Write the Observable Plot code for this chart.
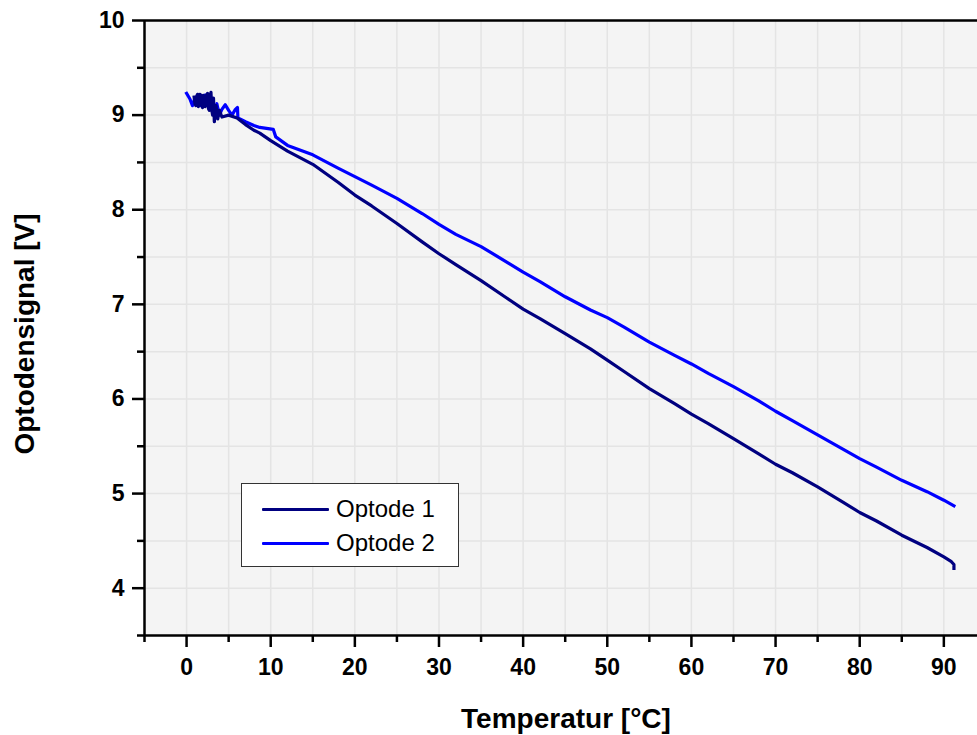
<!DOCTYPE html>
<html>
<head>
<meta charset="utf-8">
<script src="https://cdn.jsdelivr.net/npm/d3@7"></script>
<script src="https://cdn.jsdelivr.net/npm/@observablehq/plot@0.6"></script>
<style>
  html, body { margin: 0; padding: 0; background: #ffffff; }
  #wrap { position: relative; width: 977px; height: 735px; font-family: "Liberation Sans", Arial, sans-serif; }
  #legend { position: absolute; left: 241px; top: 483px; width: 216px; height: 82px; background: #ffffff; border: 1px solid #333333; }
  .row { position: absolute; left: 20px; height: 30px; display: flex; align-items: center; }
  .sw { width: 67px; height: 3px; margin-right: 7px; border-radius: 1px; }
  .lab { font-size: 24px; color: #000; line-height: 30px; }
</style>
</head>
<body>
<div id="wrap"></div>
<script>
// Optode 1 (dark blue)
const temp1 = [0.9, 1.0, 1.1, 1.2, 1.3, 1.4, 1.5, 1.6, 1.7, 1.8, 1.9, 2.0, 2.1, 2.2, 2.3, 2.4, 2.5, 2.6, 2.7, 2.8, 2.9, 3.0, 3.1, 3.2, 3.3, 3.5, 3.7, 3.9, 4.2, 5.0, 6.0, 7, 8, 8.7, 10, 12, 15, 18, 20, 22, 25, 28, 30, 32, 35, 38, 40, 42, 45, 48, 50, 52, 55, 58, 60, 62, 65, 68, 70, 72, 75, 78, 80, 82, 85, 88, 90, 90.9, 91.2, 91.2];
const signal1 = [9.19, 9.12, 9.10, 9.20, 9.22, 9.09, 9.12, 9.22, 9.21, 9.10, 9.08, 9.21, 9.20, 9.09, 9.13, 9.22, 9.23, 9.07, 9.05, 9.20, 9.24, 9.05, 9.00, 9.18, 8.93, 9.10, 8.96, 9.05, 8.98, 9.00, 8.97, 8.90, 8.84, 8.81, 8.73, 8.62, 8.48, 8.29, 8.155, 8.04, 7.855, 7.66, 7.535, 7.42, 7.25, 7.07, 6.95, 6.85, 6.69, 6.53, 6.41, 6.29, 6.11, 5.95, 5.84, 5.74, 5.58, 5.42, 5.31, 5.22, 5.07, 4.91, 4.80, 4.71, 4.56, 4.43, 4.33, 4.28, 4.25, 4.21];
// Optode 2 (blue)
const temp2 = [0, 0.4, 0.7, 1.0, 1.2, 1.4, 1.6, 1.8, 2.0, 2.2, 2.4, 2.6, 2.8, 3.0, 3.3, 3.6, 3.9, 4.2, 4.6, 5.0, 5.4, 5.8, 6.05, 6.1, 7, 8, 8.7, 10.3, 10.6, 12, 15, 18, 20, 22, 25, 28, 30, 32, 35, 38, 40, 42, 45, 48, 50, 52, 55, 58, 60, 62, 65, 68, 70, 72, 75, 78, 80, 82, 85, 88, 90, 91.2];
const signal2 = [9.23, 9.17, 9.10, 9.18, 9.12, 9.20, 9.10, 9.19, 9.13, 9.21, 9.11, 9.18, 9.09, 9.16, 9.05, 9.12, 9.00, 9.06, 9.11, 9.05, 9.00, 9.06, 9.08, 8.97, 8.93, 8.89, 8.87, 8.85, 8.77, 8.68, 8.58, 8.44, 8.35, 8.26, 8.12, 7.96, 7.845, 7.74, 7.61, 7.45, 7.34, 7.24, 7.08, 6.94, 6.86, 6.76, 6.60, 6.46, 6.37, 6.27, 6.13, 5.98, 5.87, 5.77, 5.62, 5.47, 5.37, 5.28, 5.14, 5.02, 4.93, 4.87];

const seriesNames = ["Optode 1", "Optode 2"];
const seriesColors = ["#000080", "#0000ff"];

const xMajor = [0, 10, 20, 30, 40, 50, 60, 70, 80, 90];
const xMinor = [-5, 5, 15, 25, 35, 45, 55, 65, 75, 85];
const yMajor = [4, 5, 6, 7, 8, 9, 10];
const yMinor = [3.5, 4.5, 5.5, 6.5, 7.5, 8.5, 9.5];
const xGrid = [0, 5, 10, 15, 20, 25, 30, 35, 40, 45, 50, 55, 60, 65, 70, 75, 80, 85, 90];
const yGrid = [4, 4.5, 5, 5.5, 6, 6.5, 7, 7.5, 8, 8.5, 9, 9.5];

const xLabel = "Temperatur [°C]";
const yLabel = "Optodensignal [V]";

const d1 = temp1.map((t, i) => ({t, v: signal1[i]}));
const d2 = temp2.map((t, i) => ({t, v: signal2[i]}));

const font = "'Liberation Sans', Arial, sans-serif";

const chart = Plot.plot({
  width: 977,
  height: 735,
  marginLeft: 144,
  marginRight: 0,
  marginTop: 20,
  marginBottom: 100,
  style: {background: "#ffffff", fontFamily: font, color: "#000"},
  x: {domain: [-5, 94]},
  y: {domain: [3.5, 10]},
  marks: [
    Plot.frame({fill: "#f4f4f4", stroke: null}),
    Plot.ruleX(xGrid, {stroke: "#e4e4e4", strokeWidth: 1.5}),
    Plot.ruleY(yGrid, {stroke: "#e4e4e4", strokeWidth: 1.5}),
    Plot.line(d2, {x: "t", y: "v", stroke: seriesColors[1], strokeWidth: 3.2, strokeLinejoin: "round", strokeLinecap: "square"}),
    Plot.line(d1, {x: "t", y: "v", stroke: seriesColors[0], strokeWidth: 3.2, strokeLinejoin: "round", strokeLinecap: "square"}),
    Plot.ruleY([10], {stroke: "#000", strokeWidth: 2.5}),
    Plot.ruleY([3.5], {stroke: "#000", strokeWidth: 2.5}),
    Plot.ruleX([-5], {stroke: "#000", strokeWidth: 2.5}),
    Plot.axisX(xMajor, {tickSize: 12, tickPadding: 11, tickFormat: d => String(d), fontSize: 23, fontWeight: "bold", strokeWidth: 2.5, label: null}),
    Plot.axisX(xMinor, {tickSize: 7, tickFormat: () => "", strokeWidth: 2.5, label: null}),
    Plot.axisY(yMajor, {tickSize: 12, tickPadding: 8, tickFormat: d => String(d), fontSize: 23, fontWeight: "bold", strokeWidth: 2.5, label: null}),
    Plot.axisY(yMinor, {tickSize: 7, tickFormat: () => "", strokeWidth: 2.5, label: null}),
    Plot.text([xLabel], {frameAnchor: "bottom", dx: 5, dy: 92, lineAnchor: "bottom", textAnchor: "middle", fontSize: 28, fontWeight: "bold", fill: "#000"}),
    Plot.text([yLabel], {frameAnchor: "left", dx: -119, dy: 6, rotate: -90, textAnchor: "middle", lineAnchor: "middle", fontSize: 28, fontWeight: "bold", fill: "#000"})
  ]
});

const wrap = document.getElementById("wrap");
wrap.appendChild(chart);

const legend = document.createElement("div");
legend.id = "legend";
seriesNames.forEach((name, i) => {
  const row = document.createElement("div");
  row.className = "row";
  row.style.top = (10 + i * 34) + "px";
  const sw = document.createElement("div");
  sw.className = "sw";
  sw.style.background = seriesColors[i];
  const lab = document.createElement("span");
  lab.className = "lab";
  lab.textContent = name;
  row.appendChild(sw);
  row.appendChild(lab);
  legend.appendChild(row);
});
wrap.appendChild(legend);
</script>
</body>
</html>
